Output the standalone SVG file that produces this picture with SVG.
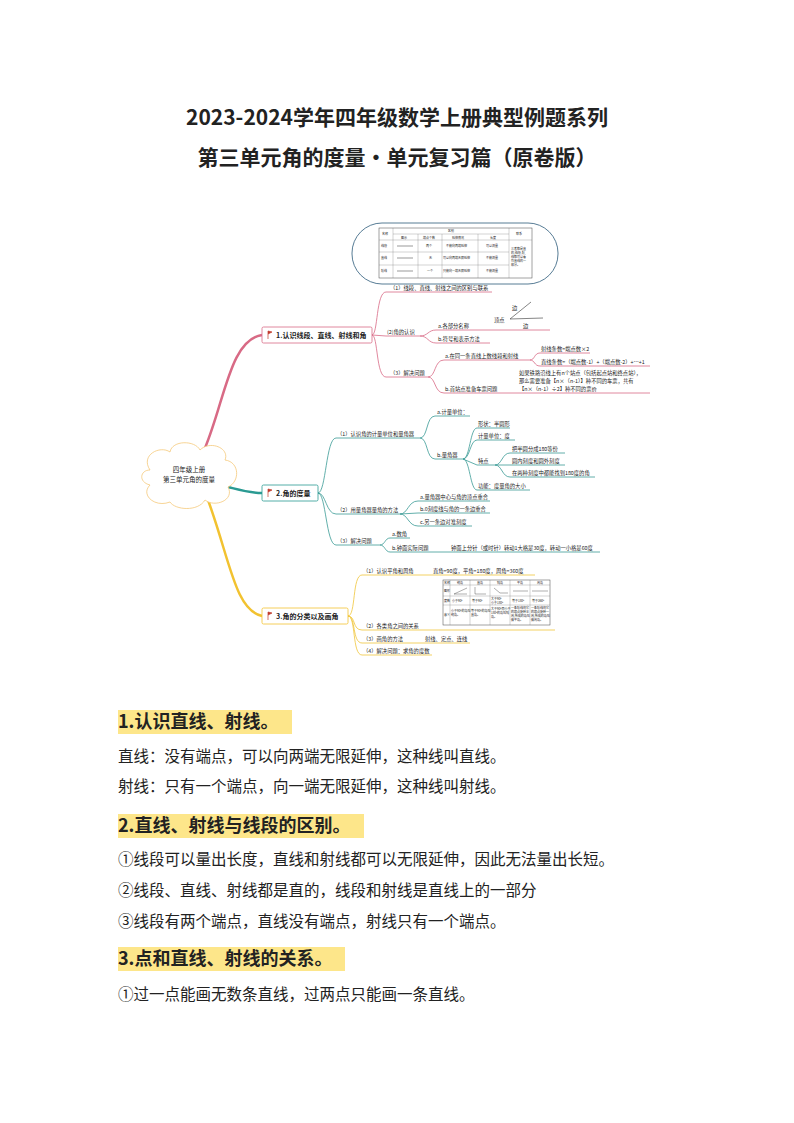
<svg xmlns="http://www.w3.org/2000/svg" width="794" height="1123" viewBox="0 0 794 1123">
<style>
text{font-family:"Noto Sans CJK SC","Liberation Sans",sans-serif;fill:#222}
.t{font-size:21px;font-weight:bold;text-anchor:middle}
.s{font-size:5.3px}
.xs{font-size:3px}
.b{font-size:7px;font-weight:bold}
.h{font-size:18px;font-weight:bold}
.p{font-size:15.5px}
.pk{fill:none;stroke:#d86a85;stroke-width:0.8}
.tl{fill:none;stroke:#3a9b95;stroke-width:0.8}
.yl{fill:none;stroke:#f0c53a;stroke-width:0.8}
.tb{fill:#fff;stroke:#444;stroke-width:0.5}
.tg{stroke:#666;stroke-width:0.3}
</style>
<rect width="794" height="1123" fill="#fff"/>
<text class="t" x="397" y="125">2023-2024学年四年级数学上册典型例题系列</text>
<text class="t" x="397" y="165">第三单元角的度量·单元复习篇（原卷版）</text>

<g id="connectors">
<path d="M205,448 C225,400 230,340 262,335" stroke="#d86a85" stroke-width="2.5" fill="none"/>
<path d="M228,487 C240,490 250,493 262,493" stroke="#2a9a92" stroke-width="2.5" fill="none"/>
<path d="M208,500 C230,560 235,610 262,616" stroke="#f2c230" stroke-width="2.5" fill="none"/>
<path class="pk" d="M372,335 C378,335 376,292 386,292 L492,292 M372,335 L386,336 L420,336 M372,335 C378,335 376,377 386,377 L428,377"/>
<path class="pk" d="M420,336 C428,336 428,330 436,330 L550,330 M420,336 C428,336 428,343 436,343 L490,343"/>
<path class="pk" d="M428,377 C436,377 434,360 444,360 L530,360 M428,377 C436,377 434,393 444,393 L650,393"/>
<path class="pk" d="M530,360 C535,360 534,353 540,353 L590,353 M530,360 C535,360 534,366 540,366 L650,366"/>
<path class="tl" d="M318,493 C326,493 326,438 336,438 L420,438 M318,493 C326,493 326,514 336,514 L400,514 M318,493 C326,493 326,545 336,545 L380,545"/>
<path class="tl" d="M420,438 C428,438 426,416 435,416 L470,416 M420,438 C428,438 426,459 435,459 L463,459"/>
<path class="tl" d="M463,459 C470,459 470,428 477,428 L510,428 M463,459 C470,459 470,440 477,440 L515,440 M463,459 L477,465 L495,465 M463,459 C470,459 470,490 477,490 L530,490"/>
<path class="tl" d="M495,465 C502,465 502,453 510,453 L565,453 M495,465 L510,465 L565,465 M495,465 C502,465 502,477 510,477 L595,477"/>
<path class="tl" d="M400,514 C408,514 408,501 418,501 L490,501 M400,514 L418,513 L490,513 M400,514 C408,514 408,526 418,526 L472,526"/>
<path class="tl" d="M380,545 C385,545 385,538 390,538 L410,538 M380,545 C385,545 385,552 390,552 L600,552"/>
<path class="yl" d="M348,616 C356,616 352,575 362,575 L535,575 M348,616 C356,616 352,630 362,630 L555,630 M348,616 C356,616 352,643 362,643 L470,643 M348,616 C356,616 352,655 362,655 L432,655"/>
<path d="M510,319 L531,302 M510,319 L543,318" stroke="#333" stroke-width="0.6" fill="none"/>
</g>

<g id="root">
<path d="M150,470 C140,455 160,445 170,452 C172,440 195,440 200,450 C210,440 230,448 225,460 C240,462 240,482 228,487 C235,500 215,508 205,500 C198,512 175,510 170,502 C155,508 140,495 150,485 C138,482 140,470 150,470 Z" fill="#fff" stroke="#f5c97a" stroke-width="0.8"/>
<text class="s" x="189" y="472" text-anchor="middle" style="font-size:6.5px">四年级上册</text>
<text class="s" x="189" y="482" text-anchor="middle" style="font-size:6.5px">第三单元角的度量</text>
</g>

<g id="b1">
<rect x="262" y="327" width="110" height="16" rx="1.5" fill="#fff" stroke="#d86a85" stroke-width="0.8"/>
<path d="M268,331 v8 M268,331 l4,1 l-4,2" stroke="#c0392b" fill="#c0392b" stroke-width="0.7"/>
<text class="b" x="276" y="338">1.认识线段、直线、射线和角</text>
<text class="s" x="390" y="290">（1）线段、直线、射线之间的区别与联系</text>
<text class="s" x="387" y="334">(2)角的认识</text>
<text class="s" x="438" y="328">a.各部分名称</text>
<text class="s" x="438" y="341">b.符号和表示方法</text>
<text class="s" x="512" y="310">边</text><text class="s" x="494" y="322">顶点</text><text class="s" x="523" y="328">边</text>
<text class="s" x="390" y="375">（3）解决问题</text>
<text class="s" x="445" y="358">a.在同一条直线上数线段和射线</text>
<text class="s" x="541" y="351">射线条数=端点数×2</text>
<text class="s" x="541" y="364">直线条数=（端点数-1）+（端点数-2）+…+1</text>
<text class="s" x="519" y="375">如果铁路沿线上有n个站点（包括起点站和终点站），</text>
<text class="s" x="519" y="383">那么需要准备【n×（n-1）】种不同的车票，共有</text>
<text class="s" x="519" y="391">【n×（n-1）÷2】种不同的票价</text>
<text class="s" x="445" y="391">b.首站点准备车票问题</text>
</g>

<g id="table1">
<rect x="352" y="223" width="206" height="61" rx="30" fill="#fff" stroke="#2c5a7a" stroke-width="0.8"/>
<rect x="379" y="228" width="153" height="50" class="tb"/>
<path class="tg" d="M393,228 V278 M393,234 H509 M379,240 H532 M418,234 V278 M442,234 V278 M478,234 V278 M509,228 V278 M379,252 H509 M379,265 H509"/>
<text class="xs" x="382" y="235">名称</text><text class="xs" x="448" y="232">区别</text><text class="xs" x="516" y="235">联系</text>
<text class="xs" x="401" y="238.5">图示</text><text class="xs" x="423" y="238.5">端点个数</text><text class="xs" x="452" y="238.5">延伸情况</text><text class="xs" x="490" y="238.5">长度</text>
<text class="xs" x="381" y="247">线段</text><text class="xs" x="426" y="247">两个</text><text class="xs" x="446" y="247">不能向两端延伸</text><text class="xs" x="486" y="247">可以测量</text>
<text class="xs" x="381" y="259">直线</text><text class="xs" x="429" y="259">无</text><text class="xs" x="443" y="259">可以向两端无限延伸</text><text class="xs" x="486" y="259">不能测量</text>
<text class="xs" x="381" y="272">射线</text><text class="xs" x="427" y="272">一个</text><text class="xs" x="443" y="272">只能向一端无限延伸</text><text class="xs" x="486" y="272">不能测量</text>
<path d="M397,246 H413 M397,258 H413 M397,271 H413" stroke="#333" stroke-width="0.5"/>
<text class="xs" x="511" y="250">三者都是直</text><text class="xs" x="511" y="254">的,线段,射</text><text class="xs" x="511" y="258">线都可以看</text><text class="xs" x="511" y="262">作直线的一</text><text class="xs" x="511" y="266">部分。</text>
</g>

<g id="b2">
<rect x="262" y="485" width="56" height="16" rx="1.5" fill="#fff" stroke="#2a9a92" stroke-width="0.8"/>
<path d="M268,489 v8 M268,489 l4,1 l-4,2" stroke="#c0392b" fill="#c0392b" stroke-width="0.7"/>
<text class="b" x="276" y="496">2.角的度量</text>
<text class="s" x="337" y="436">（1）认识角的计量单位和量角器</text>
<text class="s" x="437" y="414">a.计量单位：</text>
<text class="s" x="437" y="457">b.量角器</text>
<text class="s" x="478" y="426">形状：半圆形</text>
<text class="s" x="478" y="438">计量单位：度</text>
<text class="s" x="478" y="463">特点</text>
<text class="s" x="512" y="451">把半圆分成180等份</text>
<text class="s" x="512" y="463">圆内刻度和圆外刻度</text>
<text class="s" x="512" y="475">在两种刻度中都能找到180度的角</text>
<text class="s" x="478" y="488">功能：度量角的大小</text>
<text class="s" x="337" y="512">（2）用量角器量角的方法</text>
<text class="s" x="420" y="499">a.量角器中心与角的顶点重合</text>
<text class="s" x="420" y="511">b.0刻度线与角的一条边重合</text>
<text class="s" x="420" y="524">c.另一条边对准刻度</text>
<text class="s" x="337" y="543">（3）解决问题</text>
<text class="s" x="392" y="536">a.数角</text>
<text class="s" x="392" y="550">b.钟面实际问题</text>
<text class="s" x="451" y="550">钟面上分针（或时针）转动1大格是30度，转动一小格是60度</text>
</g>

<g id="b3">
<rect x="262" y="608" width="86" height="16" rx="1.5" fill="#fff" stroke="#f2c230" stroke-width="0.8"/>
<path d="M268,612 v8 M268,612 l4,1 l-4,2" stroke="#c0392b" fill="#c0392b" stroke-width="0.7"/>
<text class="b" x="276" y="619">3.角的分类以及画角</text>
<text class="s" x="363" y="573">（1）认识平角和周角</text>
<text class="s" x="433" y="573">直角=90度，平角=180度，周角=360度</text>
<text class="s" x="363" y="628">（2）各类角之间的关系</text>
<text class="s" x="363" y="641">（3）画角的方法</text>
<text class="s" x="425" y="641">射线、定点、连线</text>
<text class="s" x="363" y="653">（4）解决问题：求角的度数</text>
</g>

<g id="table2">
<rect x="443" y="580" width="107" height="45" class="tb"/>
<path class="tg" d="M450,580 V625 M470,580 V625 M490,580 V625 M510,580 V625 M530,580 V625 M443,585 H550 M443,596 H550 M443,605 H550"/>
<text class="xs" x="444" y="584">名称</text><text class="xs" x="457" y="584">锐角</text><text class="xs" x="477" y="584">直角</text><text class="xs" x="497" y="584">钝角</text><text class="xs" x="517" y="584">平角</text><text class="xs" x="537" y="584">周角</text>
<text class="xs" x="444" y="592">图形</text><text class="xs" x="444" y="602">度数</text><text class="xs" x="444" y="616">意义</text>
<path d="M454,594 L467,588 M454,594 H467 M475,587 V594 H486 M494,588 L500,593 H508 M513,591 H528 M532,591 H548" stroke="#333" stroke-width="0.4" fill="none"/>
<text class="xs" x="452" y="602">小于90°</text><text class="xs" x="472" y="602">等于90°</text><text class="xs" x="491" y="600">大于90°</text><text class="xs" x="491" y="604">小于180°</text><text class="xs" x="512" y="602">等于180°</text><text class="xs" x="532" y="602">等于360°</text>
<text class="xs" x="451" y="612">小于90°的角叫</text><text class="xs" x="451" y="616">锐角。</text>
<text class="xs" x="471" y="612">等于90°的角叫</text><text class="xs" x="471" y="616">直角。</text>
<text class="xs" x="491" y="610">大于90°而小于</text><text class="xs" x="491" y="614">180°的角叫钝</text><text class="xs" x="491" y="618">角。</text>
<text class="xs" x="511" y="609">一条射线绕它</text><text class="xs" x="511" y="613">的端点旋转半</text><text class="xs" x="511" y="617">周,所成的角叫</text><text class="xs" x="511" y="621">做平角。</text>
<text class="xs" x="531" y="609">一条射线绕它</text><text class="xs" x="531" y="613">的端点旋转一</text><text class="xs" x="531" y="617">周,所成的角叫</text><text class="xs" x="531" y="621">做周角。</text>
</g>

<g id="text">
<rect x="118" y="710" width="174" height="24" fill="#fde68a"/>
<text class="h" x="118" y="728">1.认识直线、射线。</text>
<text class="p" x="118" y="762">直线：没有端点，可以向两端无限延伸，这种线叫直线。</text>
<text class="p" x="118" y="792">射线：只有一个端点，向一端无限延伸，这种线叫射线。</text>
<rect x="118" y="814" width="246" height="24" fill="#fde68a"/>
<text class="h" x="118" y="832">2.直线、射线与线段的区别。</text>
<text class="p" x="118" y="865">①线段可以量出长度，直线和射线都可以无限延伸，因此无法量出长短。</text>
<text class="p" x="118" y="896">②线段、直线、射线都是直的，线段和射线是直线上的一部分</text>
<text class="p" x="118" y="927">③线段有两个端点，直线没有端点，射线只有一个端点。</text>
<rect x="118" y="947" width="227" height="24" fill="#fde68a"/>
<text class="h" x="118" y="965">3.点和直线、射线的关系。</text>
<text class="p" x="118" y="1000">①过一点能画无数条直线，过两点只能画一条直线。</text>
</g>
</svg>
